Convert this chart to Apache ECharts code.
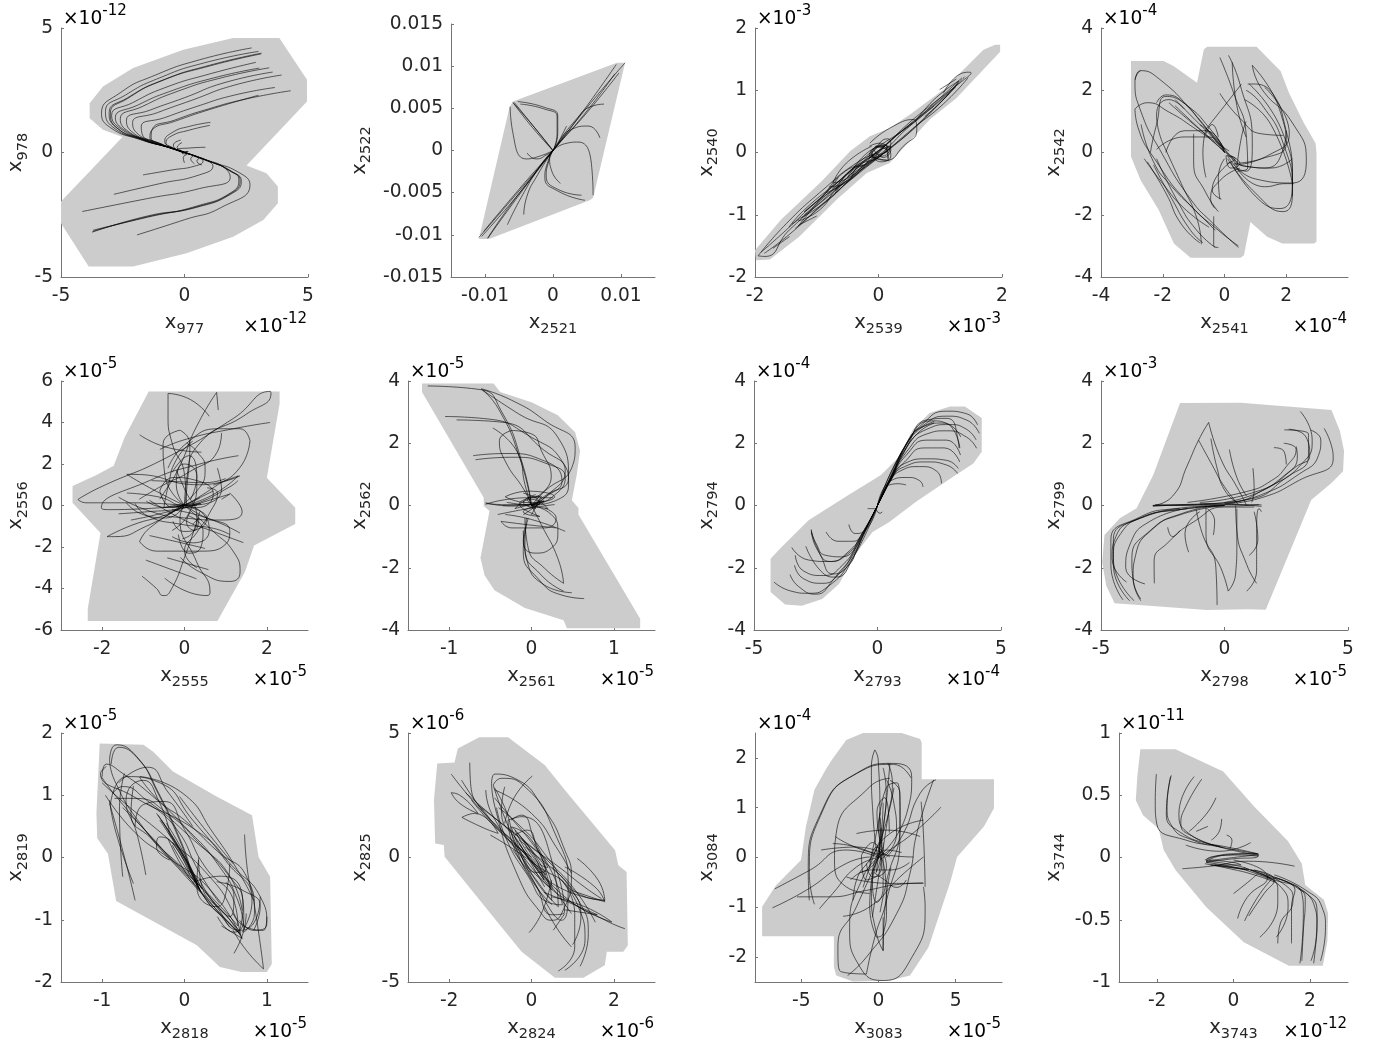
<!DOCTYPE html>
<html><head><meta charset="utf-8"><style>html,body{margin:0;background:#fff}#c{width:1381px;height:1046px}</style>
<script src="https://cdn.jsdelivr.net/npm/echarts@6/dist/echarts.min.js"></script></head><body><div id="c"></div>
<script>
const xNames=['977','2521','2539','2541','2555','2561','2793','2798','2818','2824','3083','3743'];
const yNames=['978','2522','2540','2542','2556','2562','2794','2799','2819','2825','3084','3744'];
const xExp=['-12','','-3','-4','-5','-5','-4','-5','-5','-6','-5','-12'];
const yExp=['-12','','-3','-4','-5','-5','-4','-3','-5','-6','-4','-11'];
const xLim=[5,0.015,2,4,3,1.5,5,5,1.5,3,8,3];
const yLim=[5,0.015,2,4,6,4,4,4,2,5,2.5,1];
const xTicks=[[-5,0,5],[-0.01,0,0.01],[-2,0,2],[-4,-2,0,2],[-2,0,2],[-1,0,1],[-5,0,5],[-5,0,5],[-1,0,1],[-2,0,2],[-5,0,5],[-2,0,2]];
const yTicks=[[-5,0,5],[-0.015,-0.01,-0.005,0,0.005,0.01,0.015],[-2,-1,0,1,2],[-4,-2,0,2,4],[-6,-4,-2,0,2,4,6],[-4,-2,0,2,4],[-4,-2,0,2,4],[-4,-2,0,2,4],[-2,-1,0,1,2],[-5,0,5],[-2,-1,0,1,2],[-1,-0.5,0,0.5,1]];

const hull1=[[1.97,4.6],[3.84,4.6],[4.96,2.92],[4.96,2.05],[2.51,-0.52],[3.32,-0.83],[3.78,-1.37],[3.78,-2.04],[3.19,-2.71],[1.97,-3.38],[0.08,-4.05],[-2.08,-4.58],[-3.88,-4.58],[-5,-2.84],[-5,-1.97],[-2.51,0.62],[-3.3,0.91],[-3.84,1.38],[-3.84,1.98],[-3.3,2.65],[-2.08,3.39],[-0.05,4.13]];
const traj1=[
[[2.72,4.2],[0.6,3.72],[-1.2,3.1],[-2.6,2.4],[-3.36,1.58],[-3,1],[-1.8,0.52],[-0.7,0.22],[0,0]],
[[3,4.06],[0.8,3.6],[-1,3],[-2.4,2.3],[-3.2,1.65],[-2.9,1.02],[-1.7,0.5],[-0.7,0.22],[0,0]],
[[3.12,3.99],[1,3.5],[-0.9,2.9],[-2.3,2.2],[-3.05,1.6],[-2.8,1.03],[-1.7,0.52],[-0.7,0.22],[0,0]],
[[3.1,3.96],[1,3.47],[-0.95,2.87],[-2.3,2.17],[-3,1.58],[-2.75,1],[-1.65,0.5],[-0.7,0.22],[0,0]],
[[2.89,3.62],[1,3.15],[-0.8,2.6],[-2.1,2],[-2.95,1.5],[-2.65,1],[-1.6,0.5],[-0.6,0.2],[0,0]],
[[3.03,3.39],[1.2,3],[-0.6,2.45],[-1.9,1.9],[-2.8,1.4],[-2.5,0.95],[-1.5,0.48],[-0.6,0.2],[0,0]],
[[3.43,3.4],[1.5,3],[-0.3,2.45],[-1.7,1.85],[-2.6,1.35],[-2.35,0.9],[-1.4,0.45],[-0.6,0.2],[0,0]],
[[3.57,3.23],[1.6,2.8],[0,2.2],[-1.4,1.7],[-2.35,1.3],[-2.15,0.85],[-1.3,0.42],[-0.5,0.17],[0,0]],
[[3.93,3.11],[2,2.7],[0.3,2.1],[-1.1,1.6],[-2.1,1.2],[-1.95,0.8],[-1.2,0.42],[-0.5,0.17],[0,0]],
[[3.66,2.61],[2,2.3],[0.5,1.85],[-0.8,1.4],[-1.75,1.05],[-1.7,0.7],[-1.1,0.4],[-0.45,0.15],[0,0]],
[[4.3,2.48],[2.5,2.15],[0.8,1.7],[-0.4,1.3],[-1.3,0.95],[-1.35,0.6],[-0.9,0.33],[-0.4,0.12],[0,0]],
[[3,2.3],[1,1.72],[-0.4,1.25],[-1.3,0.92],[-1.4,0.6],[-0.9,0.32],[0,0]],
[[1.05,1.21],[0.2,1.05],[-0.5,0.8],[-0.8,0.45],[-0.5,0.2],[0,0]],
[[1.03,1.09],[0.2,0.9],[-0.55,0.65],[-0.75,0.38],[-0.45,0.18],[0,0]],
[[0.85,0.21],[0.2,0.18],[-0.3,0.12],[-0.15,0.05],[0,0]],
[[-0.15,0.5],[-0.45,0.3],[-0.3,0.1],[0,0]],
[[-0.1,0.4],[-0.3,0.2],[-0.1,0.05],[0,0]],
[[0,-0.42],[-0.05,-0.2],[0.1,-0.08]],
[[0.4,-0.45],[0.25,-0.25],[0.35,-0.15]],
[[0.7,-0.5],[0.5,-0.35],[0.6,-0.22]],
[[-4.14,-2.37],[-1.5,-1.85],[0.6,-1.45],[1.85,-1],[1.6,-0.6],[0.9,-0.3],[0,0]],
[[-2.86,-1.68],[-1,-1.25],[0.6,-0.9],[1.15,-0.55],[0.7,-0.25],[0,0]],
[[-1.68,-0.9],[-0.5,-0.7],[0.4,-0.55],[0.75,-0.35],[0.4,-0.15],[0,0]],
[[-3.74,-3.2],[-1.5,-2.55],[0.5,-2.2],[2,-1.6],[2.3,-1.15],[1.9,-0.75],[1,-0.35],[0,0]],
[[-3.7,-3.12],[-1.5,-2.6],[0.5,-2.15],[1.9,-1.6],[2.2,-1.1],[1.8,-0.72],[1,-0.35],[0,0]],
[[-3.72,-3.17],[-1.5,-2.58],[0.5,-2.18],[1.95,-1.6],[2.25,-1.12],[1.85,-0.74],[1,-0.35],[0,0]],
[[-1.92,-3.31],[0,-2.7],[1.5,-2.2],[2.65,-1.3],[2.2,-0.8],[1,-0.35],[0,0]],
[[-0.2,0.1],[0.2,-0.06],[-0.1,-0.03],[0.15,0.04],[-0.15,0.03],[0.18,-0.05]]
];

const hull2=[[-0.0059,0.0058],[0.0094,0.0104],[0.0106,0.0104],[0.0059,-0.0056],[0.0054,-0.0059],[-0.0094,-0.0105],[-0.0109,-0.0105],[-0.0064,0.0051]];
const traj2=[
[[-0.0109,-0.0103],[-0.005,-0.0048],[0,0],[0.005,0.0051],[0.0106,0.0104]],
[[-0.0105,-0.0102],[-0.005,-0.0051],[0,0],[0.005,0.0053],[0.0093,0.0102]],
[[-0.0102,-0.0096],[-0.005,-0.0046],[0,0],[0.005,0.0047],[0.0091,0.0091]],
[[-0.0096,-0.0104],[-0.005,-0.0053],[0,0],[0.005,0.0045],[0.0097,0.0092]],
[[-0.0059,0.0057],[-0.003,0.0027],[0,0]],
[[-0.0058,0.0056],[-0.003,0.003],[0,0]],
[[-0.0057,0.0057],[-0.0028,0.0028],[0,0]],
[[-0.0052,0.0058],[-0.0012,0.0051],[0.0007,0.0041],[0.0007,0.0021],[0,0]],
[[-0.0048,0.0055],[-0.0012,0.0049],[0.0006,0.004],[0.0006,0.002],[0,0]],
[[-0.0063,0.0052],[-0.0059,0.0021],[-0.0039,-0.001],[-0.0017,-0.0006],[0,0]],
[[-0.0038,-0.0003],[-0.0025,-0.001],[-0.0007,-0.0004],[0,0]],
[[0.0059,-0.0053],[0.0057,-0.002],[0.0037,0.001],[0.0017,0.0008],[0,0]],
[[0.0047,-0.0059],[0.0007,-0.0048],[-0.0012,-0.0032],[-0.0007,-0.0012],[0,0]],
[[0.0042,-0.0053],[0.0007,-0.0046],[-0.001,-0.003],[-0.0006,-0.0012],[0,0]],
[[0.0011,-0.0039],[-0.0002,-0.0024],[-0.0005,-0.0008],[0,0]],
[[0.0069,0.0015],[0.0052,0.0029],[0.0027,0.0025],[0.0007,0.0008],[0,0]],
[[0.0075,0.0055],[0.0059,0.0053],[0.0032,0.0035],[0,0]],
[[0.002,0.0029],[0.0015,0.0021],[0.0007,0.0008]],
[[-0.0043,-0.0076],[-0.0039,-0.0056],[-0.0022,-0.0028],[0,0]],
[[-0.0067,-0.0088],[-0.0047,-0.0056],[-0.0017,-0.0016],[0,0]],
[[-0.0096,-0.0104],[-0.0062,-0.0064],[0,0]]
];

const hull3=[[1.97,1.73],[1.97,1.62],[1.26,0.87],[0.83,0.53],[0.18,-0.17],[-0.19,-0.33],[-0.68,-0.76],[-1.28,-1.35],[-1.76,-1.72],[-1.98,-1.73],[-2,-1.57],[-1.58,-1.08],[-0.92,-0.46],[-0.46,0.02],[-0.14,0.26],[0.18,0.39],[0.51,0.61],[1.05,1.01],[1.7,1.65],[1.89,1.73]];
const traj3=[
[[-0.11,0.1],[-0.52,-0.17],[-0.74,-0.49],[-0.46,-0.39],[-0.03,-0.06]],
[[-0.14,0.15],[0.18,0.39],[0.56,0.53],[0.62,0.36],[0.4,0.1],[0.13,-0.12],[-0.11,-0.06]],
[[1.05,0.95],[1.43,1.29],[1.5,1.28],[1.32,1.12],[0.72,0.66],[0.4,0.39],[0,0]],
[[-1.95,-1.66],[-1.49,-1.14],[-0.9,-0.6],[-0.36,-0.17],[0,0]],
[[-1.95,-1.66],[-1.84,-1.67],[-1.44,-1.24],[-0.63,-0.55],[0,0]],
[[-1.44,-1.35],[-1.71,-1.54]],
[[-1,-1.02],[-1.28,-1.16]],
[[0.99,1.01],[1.26,1.18]],
[[-1.4,-1.15],[-1,-0.85],[-0.5,-0.4],[0,-0.05],[0.5,0.42],[0.9,0.75]],
[[-1.45,-1.2],[-1.2,-0.92],[-0.6,-0.42],[-0.1,0.02],[0.45,0.4],[1,0.88],[1.35,1.2]],
[[-1.35,-1.22],[-0.8,-0.75],[-0.3,-0.3],[0.2,0.08],[0.7,0.5],[1.3,1.12]],
[[-1.3,-1.1],[-0.95,-0.92],[-0.65,-0.55],[-0.35,-0.35],[-0.1,-0.02]],
[[-1.2,-1],[-0.7,-0.55],[-0.4,-0.25],[0,0.02],[0.3,0.28],[0.6,0.5],[1.25,1.05]],
[[-0.85,-0.65],[-0.5,-0.45],[-0.25,-0.2],[-0.4,-0.25],[-0.75,-0.58]],
[[-0.7,-0.65],[-0.4,-0.3],[-0.1,-0.12],[0.2,0.15],[0.15,0.22],[-0.1,0],[-0.45,-0.35]],
[[0.15,-0.1],[0.08,0.1],[-0.1,0.05],[-0.15,-0.08],[0.1,-0.05],[0.2,0.1],[0,0.03],[-0.1,-0.05],[0.15,0.03],[-0.05,0.1]],
[[0.18,-0.13],[0.05,-0.12],[-0.1,-0.02],[0.02,0.12],[0.2,0.05],[0.08,-0.08],[-0.08,0.05]],
[[-0.65,-0.4],[-0.9,-0.7],[-1.2,-0.95],[-0.95,-0.75],[-0.6,-0.52]],
[[-1.9,-1.6],[-1.5,-1.25],[-1,-0.78],[-0.5,-0.35],[0,0.02],[0.5,0.45],[1,0.85],[1.4,1.22]],
[[-1.85,-1.62],[-1.4,-1.28],[-0.9,-0.82],[-0.4,-0.4],[0.1,0],[0.55,0.38],[1.05,0.78],[1.45,1.2]],
[[-1.3,-1.18],[-0.9,-0.7],[-0.6,-0.35],[-0.2,-0.12],[0.2,0.2],[0.55,0.48]],
[[-1.25,-1.05],[-0.8,-0.75],[-0.45,-0.42],[-0.1,-0.15],[0.3,0.15],[0.6,0.42],[1.15,0.95]],
[[-0.8,-0.55],[-0.55,-0.5],[-0.3,-0.2],[0,-0.08],[0.15,0.1]],
[[-0.7,-0.62],[-0.45,-0.28],[-0.2,-0.18],[0.1,0.1],[-0.15,0.02],[-0.5,-0.4]],
[[0.6,0.5],[0.9,0.85],[1.3,1.15],[1.1,0.9],[0.75,0.58]],
[[-0.15,0.1],[0.02,0.15],[0.2,-0.05],[0.05,-0.15],[-0.12,0],[0.1,0.12],[0.16,-0.1]]
];

const hull4=[[-3.03,2.94],[-1.97,2.94],[-1.64,2.77],[-0.89,2.24],[-0.67,3.31],[-0.56,3.4],[1.04,3.4],[1.82,2.61],[2.09,1.91],[2.57,0.95],[2.95,0.3],[2.98,-0.02],[2.98,-2.87],[2.9,-2.92],[1.87,-2.92],[1.38,-2.71],[0.84,-2.23],[0.63,-3.3],[0.52,-3.38],[-1.1,-3.38],[-1.64,-2.92],[-2.13,-1.85],[-2.72,-0.88],[-3.03,-0.13]];
const traj4=[
[[-2.89,2.34],[-2.72,2.63],[-2.1,2.35],[-1,1.27],[-0.3,0.4],[0,0]],
[[-2.72,2.63],[-2.9,2.3],[-2.7,1.3],[-2.1,0.1],[-1.1,-1.5],[-0.35,-2.3],[0.45,-3.05]],
[[-2.9,1.4],[-2.5,1.6],[-1.8,1.3],[-1,0.8],[-0.3,0.3],[0,0]],
[[-2.9,1.4],[-2.8,0.8],[-2.2,-0.3],[-1.2,-1.6],[-0.2,-2.5],[0.45,-3]],
[[-2.4,0],[-2.2,0.9],[-1.9,1.8],[-1.4,1.65],[-0.7,0.9],[0,0.1]],
[[-2.2,1.6],[-1.9,1.85],[-1.2,1.5],[-0.5,0.8],[0,0.1]],
[[-2,0.3],[-2.2,1.2],[-1.8,1.7],[-1.3,1.4]],
[[-2.2,0.1],[-1.3,0.5],[-0.5,0.5],[0,0]],
[[-1.9,0],[-1.3,0.7],[-0.6,0.7],[0,0]],
[[-2,0.3],[-1.4,-1],[-0.9,-2.1],[-0.75,-2.95]],
[[-2.3,-0.4],[-1.7,-1.5],[-1.1,-2.5],[-0.7,-2.9]],
[[-2.2,-0.2],[-1.5,-1.6],[-0.9,-2.5],[-0.3,-3.05]],
[[-2.5,-0.3],[-1.9,-1.3],[-1.4,-2.3],[-0.8,-2.9]],
[[-1,0.6],[-1,-0.3],[-0.6,-1.3],[-0.2,-1.9]],
[[-0.35,-2.05],[-0.35,-3],[-0.2,-3.05]],
[[0.1,-0.1],[1,-0.85],[2.2,-0.98],[2.65,-0.25],[2.2,0.95],[1.2,2.05],[0.9,2.8]],
[[0.1,-0.2],[1,-1.3],[1.9,-1.9],[2.2,-1.3],[1.9,0.3],[1.2,1.55],[0.7,2]],
[[0.2,-0.3],[1.1,-1.5],[1.8,-1.8],[2.2,-1],[1.9,0.6],[0.8,2.2]],
[[0.3,-0.35],[1.2,-0.2],[2,0.3],[1.9,1],[1,2.2],[0.75,2.2]],
[[0.3,-0.4],[1.4,-0.1],[2.1,0.6],[1.3,2.1]],
[[-0.6,0.75],[0,1.5],[0.55,2.2]],
[[-0.6,0.75],[-0.7,0],[-0.6,-0.8]],
[[-0.15,3.05],[0.3,1.9],[0.7,0.6],[0.75,-0.5],[0.4,-0.6]],
[[0.13,3.12],[0.5,2.2],[0.9,0.3],[0.7,-0.6],[0.3,-0.5]],
[[0.25,2.9],[0.4,1.5],[0.7,0.5]],
[[-0.15,1.9],[0.5,1.1],[1.2,0.6],[1.9,0.55]],
[[0.65,1.7],[1.5,0.9],[2.2,-1]],
[[0.9,2.8],[1.5,2],[1.9,1.1],[2.2,-1],[2.2,-1.4]],
[[0.4,-0.5],[0.55,0.5],[0.7,1]],
[[0.2,-0.1],[0.5,-0.35],[0.2,-0.5],[0.05,-0.1],[0.35,-0.2],[0.1,-0.35]],
[[-0.6,0.6],[-0.4,0.9],[-0.2,0.5]],
[[0,-0.2],[-0.2,-0.8],[-0.15,-1.5]],
[[0.2,-0.3],[-0.4,-1.2],[-0.1,-1.5]],
[[0.5,-0.5],[-0.15,-0.9],[-0.45,-1.5],[-0.3,-1.8]],
[[0.15,0.05],[-0.5,0.5],[-1.8,1.6]],
[[0.4,-0.4],[-0.2,0.3],[-0.8,0.9],[-1.6,1.7]],
[[0.4,-0.5],[1.3,-1.1],[2,-1],[2.25,-1]],
[[0.5,-0.4],[1.3,-0.5],[1.9,0.1],[2,0.7]],
[[-0.8,0.9],[-0.3,0.5],[0.2,-0.1],[0.7,-0.45],[1.5,-0.5],[2.2,-0.2]],
[[-1.6,1.5],[-0.8,0.75],[-0.2,0.2],[0.4,-0.3]],
[[-2.6,-0.2],[-2,-1],[-1.3,-1.8],[-0.5,-2.4]],
[[-2.7,0.9],[-2.3,-0.3],[-1.7,-1.1],[-0.9,-1.9],[-0.3,-2.5]]
];

const hull5=[[-0.87,5.5],[2.31,5.5],[2.31,4.9],[2,1.34],[2.69,-0.11],[2.69,-0.89],[1.69,-1.93],[1.47,-3.19],[0.8,-5.57],[-2.35,-5.57],[-2.35,-4.97],[-2.04,-1.33],[-2.72,0.13],[-2.72,0.94],[-2.15,1.46],[-1.72,1.92],[-1.45,3.3]];
const traj5=[
[[-2.59,0.29],[-2.07,0.86],[-0.44,2.3],[1.19,4.2],[2.08,5.5],[2.1,5.4],[1.5,4.4],[0.37,3],[0.05,1.2],[0,0]],
[[-2.59,0.29],[-2.39,0.13],[-1.25,0.13],[0,0]],
[[-1.88,-1.5],[-1.25,-0.93],[-0.44,-0.44],[0,0]],
[[-1.88,-1.5],[-1.7,-1.5],[-0.93,-1],[0,0],[0.7,0.7]],
[[-0.4,5.4],[-0.4,4.4],[-0.3,3],[0,1.5],[0.05,0]],
[[-0.4,5.4],[0.15,5.1],[0.6,4.3]],
[[0.78,5.45],[0.82,4.6]],
[[0.78,5.45],[0.37,4.1],[0.05,2.65],[-0.2,1],[0,0]],
[[2.08,4],[1.19,3.7],[0.05,3.2],[-0.6,2.7]],
[[1.59,3.13],[1.35,3.7],[0.86,3.7],[0.05,3],[-0.4,1.8]],
[[1.59,3.13],[1.35,1.84],[0.7,0.86],[0,0]],
[[1.31,2.4],[0.37,2],[-0.85,1.2],[-2.02,-0.11],[-1.82,-0.2],[0,0]],
[[-1.09,3.41],[-0.44,2.81],[0.41,2.57]],
[[1.35,1.43],[0.37,1],[-1.25,1.5],[-1.4,1.5],[-0.85,0.86],[0,0]],
[[-1.09,-1.74],[-0.68,-2.2],[0.37,-2.2],[1.02,-1.82],[1.1,-1.25],[0.37,-0.44],[0,0]],
[[-1.09,-1.74],[-0.85,-1.09],[0,0]],
[[-0.85,-1.45],[-0.2,-1.74],[0.5,-2.07]],
[[0,0],[0.7,-1.25],[1.19,-2.23],[1.35,-3.2],[1.1,-3.66],[0.37,-3.2],[-0.1,-2.5]],
[[-0.94,-2.63],[-0.3,-3.1],[0.29,-3.53]],
[[-0.42,-2.52],[0.58,-3.09]],
[[-1.03,-3.41],[-0.68,-4],[-0.52,-4.34],[-0.36,-4.18],[0.05,-2.23],[0.37,-0.3]],
[[-0.48,-3.5],[0.54,-4.34],[0.62,-4.18],[0.29,-2.7],[-0.11,-0.6],[0,0]],
[[1.43,-1.79],[0.7,-1.25],[0.05,-0.76],[-0.85,0.25]],
[[-1.41,0.13],[-1,-0.44],[-0.44,-0.6],[0,0]],
[[-0.11,3.63],[-0.52,2.98],[-0.48,1.5],[0,0]],
[[-0.11,3.63],[0.13,2.98],[0.05,0.7],[0,0]],
[[0.7,0.98],[1.31,1.43],[0.7,0.53],[0,0]],
[[-0.6,0.7],[-0.28,1.35],[0.3,1.2],[0.7,0.55],[0.3,-0.1],[-0.28,-0.1],[-0.6,0.7]],
[[-0.28,-0.76],[-0.03,-1.25],[0.37,-1.1],[0.54,-0.6],[0.13,-0.1]],
[[1.35,-1.33],[0.54,-0.6],[-0.3,-0.2]],
[[-0.93,0.21],[-0.44,-0.1],[0.37,0.37]],
[[-0.3,1.6],[0.1,2.4],[0.3,1.2],[0.1,-0.4],[-0.3,-1.2]],
[[-1.4,0.6],[-0.6,0.4],[0,0],[0.9,0.8],[0.8,1.8]],
[[0.2,-0.9],[0.35,-0.6],[0.25,-1.2],[0.05,-0.8],[0.15,-0.3]],
[[-0.5,-0.1],[0,0.05],[0.4,0.08],[-0.2,-0.05],[0.3,0]],
[[-0.05,-1.6],[0.2,-1.3],[0.3,-0.6],[0,0.8],[-0.2,1.7]],
[[-1.1,0.3],[-0.5,1],[0.1,1.6],[0.8,2.6],[0.9,3.5]],
[[-1.6,0.4],[-0.8,-0.3],[0,-0.6],[0.9,-0.7],[1.4,-0.3],[1.1,0.6]],
[[-1.3,-0.7],[-0.6,-0.4],[0.3,0.1],[1.1,0.9],[1.3,1.2]],
[[-0.6,0.3],[-0.3,1.2],[0,2],[0.3,1.4],[0.15,0.3]],
[[-1.2,0.1],[-0.9,-0.5],[-0.1,-0.9],[0.7,-1.1],[1.1,-1.4]],
[[-0.3,-1.5],[0.2,-1.8],[0.6,-1.2],[0.4,-0.3],[0,0]],
[[0.55,0.85],[0.8,0.6],[0.6,-0.4],[0.3,-1.3],[0,-2.2],[0.3,-3]],
[[-0.8,1.2],[-0.2,1.15],[0.5,1.1],[1,1.3]],
[[-0.5,-0.1],[-0.4,0.9],[-0.2,2.2],[0.2,3.1]],
[[-0.4,-0.4],[0.3,0.7],[0.5,1.8],[0.3,2.6],[0.05,3]],
[[-1.6,-0.4],[-0.9,-0.3],[-0.1,-0.15],[0.6,0.25],[1.1,0.55],[0.9,0.3]],
[[0.1,-0.5],[0.45,-1.2],[0.4,-2],[0.1,-2.3],[-0.15,-1.4]]
];

const hull6=[[-1.33,3.92],[-0.46,3.92],[-0.38,3.65],[0,3.32],[0.32,2.9],[0.53,2.35],[0.59,1.76],[0.55,1],[0.49,0.17],[0.57,-0.08],[0.57,-0.29],[1.32,-3.64],[1.32,-3.94],[0.43,-3.94],[0.39,-3.69],[-0.08,-3.29],[-0.45,-2.72],[-0.57,-2.24],[-0.62,-1.69],[-0.51,-0.18],[-0.58,-0.02],[-0.58,0.25],[-1.33,3.65]];
const traj6=[
[[-1.26,3.84],[-0.61,3.72],[-0.37,3.05],[-0.12,1.43],[0,0]],
[[-0.61,3.74],[-0.4,3.1],[-0.14,1.5],[0,0]],
[[-0.61,3.75],[-0.24,3.38],[0.16,2.73],[0.53,1.87],[0.49,1.22],[0.16,0.46],[0,0]],
[[-0.59,3.7],[-0.16,2.95],[0.32,2.19],[0.45,0.9],[0.16,0.3],[0,0]],
[[-1.05,2.86],[-0.53,2.78],[0,2.19],[0.37,1.43],[0.45,0.68],[0.32,0.19],[0,0]],
[[-0.91,2.75],[-0.37,2.68],[0.16,1.76],[0.41,1.11],[0.16,0.25],[0,0]],
[[-0.47,2.49],[-0.16,1.65],[-0.08,0.68],[0,0]],
[[-0.24,2.41],[-0.39,2.08],[-0.32,1.43],[-0.08,0.46],[0,0]],
[[-0.24,2.41],[0,2.3],[0.12,1.76],[0.24,0.9],[0.04,0.25]],
[[-0.71,1.6],[-0.32,1.67],[0.16,1.43],[0.37,0.79],[0.16,0.25],[0,0]],
[[-0.68,1.47],[-0.24,1.55],[0.2,1.33],[0.41,0.9],[0.24,0.25],[0,0]],
[[-0.56,0.09],[-0.24,-0.02],[0.16,0.14]],
[[-0.56,0.04],[-0.04,0.25],[0.26,0.25]],
[[-0.55,0.06],[-0.2,0.02],[0.1,0.05],[-0.35,0]],
[[-0.41,-0.29],[0,-0.08],[0.28,0.03]],
[[-0.32,0.28],[-0.04,0.46],[0.28,0.28],[-0.04,0.09],[-0.32,0.28]],
[[0.41,-0.83],[0,-0.45],[-0.32,-0.29]],
[[0.3,-0.72],[-0.04,-0.62],[-0.37,-0.51],[-0.24,-0.72],[0.16,-0.72],[0.3,-0.4],[0.16,-0.08]],
[[-0.08,-0.72],[-0.1,-1.16],[0.04,-1.53],[0.24,-1.37],[0.32,-0.83],[0.24,-0.29],[0,0]],
[[0.39,-2.5],[0.32,-1.7],[0.12,-0.62],[0,0]],
[[0.39,-2.5],[0.16,-2.02],[-0.04,-1.37],[-0.08,-0.4]],
[[0.39,-2.75],[0.12,-2.24],[-0.08,-1.37],[-0.06,-0.4]],
[[0.64,-2.99],[0.37,-2.88],[0.08,-2.35],[-0.1,-1.48],[-0.04,-0.4]],
[[0.49,-2.8],[0.16,-2.56],[-0.06,-1.7],[-0.1,-0.8]],
[[-0.1,0.4],[0.1,0.1],[-0.1,-0.2],[0.1,-0.35],[-0.15,0.05],[0.12,0.3],[0,-0.3]],
[[-0.3,0.1],[0.2,-0.1],[0,0.2],[-0.2,-0.1],[0.15,0.15],[-0.1,-0.3]],
[[0.1,0.3],[-0.05,0.2],[0.05,-0.1],[-0.1,0.1],[0.05,0.35]]
];

const hull7=[[2.11,2.97],[2.93,3.18],[3.54,3.18],[4.22,2.81],[4.22,1.73],[3.88,1.35],[3.06,0.92],[1.56,0.12],[0.48,-0.53],[-0.2,-0.85],[-0.88,-1.55],[-1.56,-2.52],[-2.24,-3],[-3.06,-3.22],[-3.74,-3.18],[-4.33,-2.78],[-4.33,-1.71],[-3.88,-1.33],[-2.79,-0.47],[-1.29,0.28],[0.14,0.98],[0.88,1.57],[1.43,2.43]];
const traj7=[
[[0,0],[0.55,0.9],[1.1,1.85],[1.8,2.6],[2.8,3.03],[3.6,2.95],[4.05,2.59]],
[[0,0],[0.55,0.9],[1.15,1.95],[1.9,2.6],[2.8,2.87],[3.6,2.75],[4.12,2.32]],
[[0,0],[0.55,0.85],[1.2,1.9],[2,2.45],[2.9,2.6],[3.6,2.45],[3.99,2.11]],
[[0,0],[0.5,0.8],[1.2,1.75],[2,2.3],[2.8,2.4],[3.6,2.2],[4.01,1.84]],
[[0,0],[0.5,0.8],[1.2,1.65],[2,2.1],[2.8,2.1],[3.36,1.62]],
[[0,0],[0.5,0.8],[1.1,1.4],[1.9,1.85],[2.7,1.85],[3.33,1.4]],
[[0,0],[0.55,0.85],[1.1,1.35],[2,1.5],[2.8,1.45],[3.27,1.19]],
[[0,0],[0.55,0.85],[1.1,1.25],[2,1.4],[2.8,1.3],[3.24,1.03]],
[[0,0],[0.5,0.75],[0.9,1.1],[1.7,1.25],[2.4,1.1],[2.59,0.71]],
[[0,0],[0.55,0.8],[1.2,0.9],[1.7,0.8],[1.84,0.6]],
[[0.45,0.65],[0.8,0.7],[1.16,0.66]],
[[0,0],[1.2,1.9],[2,2.75],[2.8,2.8],[3.3,2],[3.33,1.84]],
[[0,0],[1.2,2],[2.2,2.72],[2.9,2.6],[3.37,2.2]],
[[0,0],[1.1,1.9],[1.9,2.55],[2.6,2.65],[3.1,2.4],[3.3,1.85]],
[[0,0],[0.5,0.8],[1,1.6],[1.6,2.3],[2.3,2.65]],
[[0,0],[0.48,0.85],[0.95,1.65],[1.55,2.35],[2.3,2.7]],
[[-0.5,-0.75],[0,0],[0.5,0.85],[1,1.7]],
[[-4.19,-2.46],[-3.5,-2.75],[-2.8,-2.82],[-2,-2.6],[-1.1,-1.8],[-0.5,-0.8],[0,0]],
[[-3.54,-2.22],[-3.2,-2.6],[-2.5,-2.85],[-1.8,-2.4],[-1,-1.6],[-0.5,-0.8],[0,0]],
[[-3.36,-1.92],[-3,-2.35],[-2.2,-2.5],[-1.5,-2.1],[-0.9,-1.4],[0,0]],
[[-3.33,-1.6],[-3,-2.1],[-2.2,-2.25],[-1.4,-1.9],[-0.8,-1.2],[0,0]],
[[-3.47,-1.35],[-2.8,-1.75],[-2,-1.8],[-1.2,-1.55],[-0.7,-1],[0,0]],
[[-2.68,-0.77],[-2.45,-1.4],[-1.9,-1.8],[-1.2,-1.5],[-0.6,-0.9],[0,0]],
[[-2.68,-0.85],[-2.3,-1.6],[-1.8,-2.2],[-1.2,-1.95],[-0.8,-1.35],[0,0]],
[[-2.9,-1.31],[-2.3,-2.1],[-1.7,-2.3],[-1,-1.7],[0,0]],
[[-2.08,-0.85],[-1.6,-1.15],[-1,-1.15],[-0.55,-0.8],[0,0]],
[[-1.16,-0.61],[-0.9,-0.9],[-0.5,-0.8],[0,0]],
[[-2.68,-0.8],[-2.5,-1.2],[-2.1,-1.6],[-1.4,-1.65],[-0.7,-1.05]],
[[-0.4,-0.1],[-0.15,-0.1],[0.1,-0.25],[0.2,-0.2]]
];

const hull8=[[-1.8,3.29],[0.65,3.3],[4.33,3.07],[4.67,2.4],[4.84,1.75],[4.8,1.1],[4.33,0.72],[3.51,0.18],[1.67,-3.35],[0.93,-3.33],[-0.71,-3.36],[-4.45,-3.14],[-4.79,-2.57],[-4.95,-1.82],[-4.86,-0.95],[-4.24,-0.41],[-3.56,-0.09],[-2.88,0.99]];
const traj8=[
[[-2.9,0],[0,0.08],[1.8,0.6],[3.2,1.4],[3.55,2.1],[3.07,3.02]],
[[-1,0.05],[1,0.2],[2.5,0.9],[3.4,1.6],[3.4,2.3],[2.42,2.43]],
[[0,0.05],[1.5,0.25],[3,0.8],[4.4,1.5],[4.3,2],[4.03,2.48]],
[[0,0.05],[1.5,0.35],[3,1],[3.8,1.6],[3.9,2.1],[3.5,2.42]],
[[0,0.1],[1.6,0.5],[2.9,1.25],[3.45,1.6],[3.3,2.2],[2.6,2.45]],
[[-1,0.1],[1.1,0.4],[2.4,0.95],[2.95,1.6],[2.9,1.9]],
[[-1.5,0.1],[0.9,0.45],[1.9,0.8],[2.5,1.25],[2.9,1.8],[2.4,2]],
[[2,1.86],[2.4,1.75],[2.5,1.32]],
[[-2.9,0],[0,0.03],[1.5,0.02]],
[[-2.9,-0.03],[-0.5,0.05],[1.5,-0.03]],
[[-2.8,0.03],[0,-0.02],[1.4,0.03]],
[[-4.11,-3.03],[-4.6,-1.9],[-4.6,-1.1],[-3.5,-0.4],[-2,-0.1],[0,0]],
[[-3.84,-3.06],[-4.5,-1.9],[-4.5,-1.1],[-3.4,-0.4],[-2,-0.15],[0,0]],
[[-3.66,-3.06],[-4.5,-1.7],[-4.2,-0.9],[-3.2,-0.35],[-1.5,-0.1],[0,0]],
[[-3.39,-3.06],[-3.7,-2.4],[-3.75,-1.7],[-3,-0.8],[-1.8,-0.3],[0,0]],
[[-3.39,-3],[-3.7,-2.3],[-3.6,-1.6],[-2.9,-0.75],[-1.7,-0.25],[-0.3,0]],
[[-3.97,-2.46],[-4.55,-1.7],[-4.4,-1],[-3.4,-0.4],[-1.8,-0.1]],
[[-3.22,-2.52],[-4,-2],[-3.8,-1.2],[-3,-0.5],[-1.5,-0.1]],
[[-2.84,-2.5],[-2.85,-1.8],[-2.3,-1.2],[-1.2,-0.5],[0,-0.05],[1.2,-0.05]],
[[-2.9,0],[-2.1,0.3],[-1.5,1.3],[-1.05,2.1],[-0.64,2.67]],
[[-0.64,2.67],[-0.15,1.5],[0.5,0.6],[0.9,0]],
[[-1.05,2.1],[-0.5,1.3],[0,0.6],[0.55,0.05]],
[[-0.55,2.15],[-0.3,1.2],[0,0.5],[0.5,0.1]],
[[0.2,1.8],[0.5,0.9],[0.9,0.3]],
[[1.15,1.2],[1.2,0.5],[1.1,0.1]],
[[-0.3,-3.2],[-0.35,-2],[-0.9,-0.9],[-1.15,-0.1]],
[[0.15,-2.75],[0.45,-2.2],[0.5,-1.2],[0.5,-0.1]],
[[0.15,-2.75],[-0.1,-2.1],[-0.75,-0.9],[-0.75,0]],
[[0.9,-2.75],[1.3,-2.1],[1.3,-0.9],[1.4,-0.1],[1.5,-0.2]],
[[1.3,-2.5],[0.9,-1.9],[0.5,-0.8],[0.45,0]],
[[1,-1.6],[1.35,-1.1],[1.2,-0.2]],
[[-1.45,-1.5],[-1.6,-0.9],[-1,-0.2]],
[[-0.45,-0.95],[-0.4,-0.5],[-0.7,-0.1]],
[[-2.3,-0.7],[-2.1,-1],[-1.8,-0.8]]
];

const hull9=[[-1.03,1.83],[-0.5,1.81],[-0.38,1.7],[-0.14,1.38],[0.39,0.98],[0.82,0.68],[0.9,0.01],[1.04,-0.31],[1.06,-1.71],[1,-1.84],[0.69,-1.84],[0.43,-1.76],[0.15,-1.41],[-0.83,-0.7],[-0.93,0.06],[-1.06,0.31],[-1.07,0.71]];
const traj9=[
[[-0.91,1.57],[-0.83,1.81],[-0.58,1.62],[-0.34,1.08],[-0.06,0.28],[0.19,-0.53],[0.59,-1.12],[0.67,-1.22]],
[[-0.89,1.5],[-0.8,1.77],[-0.56,1.58],[-0.32,1.05],[-0.04,0.25],[0.2,-0.55],[0.57,-1.1],[0.67,-1.22]],
[[-0.91,1.57],[-0.85,1.24],[-0.54,0.55],[0.02,-0.31],[0.67,-1.22]],
[[-1.01,1.3],[-0.83,0.98],[-0.3,0.17],[0.19,-0.53],[0.55,-1.12]],
[[-0.95,1.46],[-1.02,1.35],[-0.62,0.98],[0.19,0.39],[0.59,-0.15],[0.92,-0.63],[1,-1.06],[0.84,-1.17],[0.67,-1.01]],
[[-0.54,1.3],[-0.02,1.03],[0.35,0.39],[0.67,-0.26],[0.84,-0.69]],
[[-0.06,0.98],[0.19,0.55],[0.59,-0.1]],
[[-0.73,1.35],[-0.79,0.76],[-0.75,-0.31]],
[[-0.6,-0.69],[-0.73,0.01],[-0.91,0.87]],
[[-0.62,-0.42],[-0.83,0.39],[-0.91,0.92]],
[[-0.47,-0.28],[-0.58,0.39],[-0.71,0.92],[-0.5,1.24],[-0.3,0.87],[-0.18,0.39]],
[[0.73,0.37],[0.77,-0.26],[0.84,-0.69],[0.96,-1.79],[0.75,-1.49],[0.59,-1.17]],
[[0.6,-1.54],[0.71,-1.22],[0.75,-0.9]],
[[-0.18,-0.04],[-0.34,0.17],[-0.3,0.33],[-0.14,0.22],[0.06,-0.26]],
[[0.17,-0.04],[0.15,-0.47],[0.39,-0.79],[0.51,-0.53],[0.55,-0.1]],
[[1,-0.95],[0.96,-1.17],[0.75,-1.12],[0.59,-0.9]],
[[0.39,-0.39],[0.71,-0.53],[0.92,-0.79],[0.84,-1.17]],
[[-0.46,0.87],[-0.12,0.5],[0.19,-0.26],[0.43,-0.74]],
[[-0.34,0.71],[-0.06,0.12],[0.19,-0.53]],
[[-0.32,0.68],[-0.04,0.1],[0.21,-0.5],[-0.02,0.02],[-0.3,0.6]],
[[-0.28,0.6],[-0.02,0.06],[0.16,-0.45],[0.02,0],[-0.22,0.55]],
[[-0.87,1.03],[-0.75,1.14],[-0.46,0.92],[0.02,0.39],[0.55,-0.31],[0.71,-0.79],[0.67,-1.17]],
[[-1,1.3],[-0.95,1.5],[-0.75,1.35],[-0.4,1],[0,0.5],[0.4,-0.1],[0.65,-0.7],[0.72,-1.15]],
[[-1,1.2],[-0.75,0.9],[-0.2,0.3],[0.3,-0.3],[0.6,-0.9],[0.68,-1.25]],
[[-0.85,0.95],[-0.6,0.95],[-0.2,0.7],[0.2,0.2],[0.55,-0.3],[0.7,-0.85]],
[[0.92,-0.63],[0.88,-0.95],[0.67,-1.17],[0.39,-0.79],[0.18,-0.35]],
[[0.17,0],[0.2,-0.4],[0.55,-1],[0.7,-1.3],[0.45,-1.1]],
[[-0.96,1],[-0.6,0.4],[-0.2,0],[0.3,-0.5],[0.7,-1.3]],
[[-0.55,1.3],[-0.3,0.9],[0,0.6],[0.4,0.1],[0.75,-0.3],[0.85,-0.9],[0.72,-1.2]],
[[-0.9,0.85],[-0.7,1.3],[-0.3,1.2],[0.1,0.6],[0.5,-0.05],[0.82,-0.7],[0.7,-1.2]],
[[-0.75,0.8],[-0.45,0.4],[-0.1,-0.1],[0.3,-0.6],[0.65,-1.1]],
[[-0.6,0.5],[-0.5,0.85],[-0.25,0.9],[0,0.45],[0.25,-0.15],[0.6,-0.7],[0.65,-1.1]],
[[-0.62,1.15],[-0.65,0.7],[-0.4,0.3],[0,-0.2],[0.45,-0.85],[0.68,-1.2]],
[[0.1,-0.4],[0.45,-0.3],[0.7,-0.6],[0.72,-1],[0.6,-1.2],[0.4,-0.95]],
[[0.25,-0.55],[0.55,-0.95],[0.6,-0.6],[0.5,-0.4]],
[[-0.8,1.2],[-0.45,1.45],[-0.2,1.05],[0.1,0.5]],
[[-0.15,0.25],[-0.05,0.05],[0.1,-0.3],[0.2,-0.55],[0.1,-0.4],[-0.05,-0.1],[-0.2,0.3]],
[[-0.2,0.4],[0,0],[0.18,-0.5],[0.02,-0.18],[-0.15,0.2]]
];

const hull10=[[-1.27,4.83],[-0.57,4.83],[0.32,3.71],[0.81,2.71],[2.03,0.29],[2.11,-0.31],[2.31,-0.58],[2.34,-3.53],[2.23,-3.79],[1.83,-3.79],[1.78,-4.33],[1.26,-4.83],[0.57,-4.83],[-0.24,-3.79],[-0.73,-2.79],[-2.11,0.03],[-2.13,0.5],[-2.34,0.56],[-2.37,2.31],[-2.29,3.78],[-1.87,3.82],[-1.79,4.38]];
const traj10=[
[[-0.97,2.98],[-0.89,3.35],[-0.41,3.18],[0.32,1.9],[0.81,0.29],[0.97,-0.78],[0.73,-2.25],[0.49,-2.52],[0.24,-2.25],[-0.32,-0.78],[-0.89,2.04],[-0.97,2.98]],
[[-0.93,2.91],[-0.73,3.18],[-0.16,2.84],[0.57,0.97],[0.89,-1.18],[0.73,-2.52],[0.32,-1.72],[-0.49,0.97],[-0.93,2.91]],
[[-1.95,3.35],[-1.3,2.04],[-0.65,0.97],[0,-0.11],[0.65,-1.18],[1.78,-1.72]],
[[-1.5,3.81],[-1.48,2.98],[-1.05,1.64],[-0.32,0.43],[0.49,-1.18],[0.97,-2.25]],
[[-1.95,2.6],[-1.74,2.17],[-1.3,1.77],[-1.74,2.5],[-1.95,2.6]],
[[-1.69,1.61],[-1.14,1.17],[-0.81,0.97],[-1.38,1.77],[-1.69,1.61]],
[[-1.7,3.11],[-1.14,1.77],[-0.49,0.56],[0.16,-0.78],[1.14,-1.98],[1.95,-2.59]],
[[2.27,-2.86],[1.79,-2.52],[0.81,-1.58],[0,-0.11]],
[[1.11,-0.04],[1.62,-0.91],[1.78,-1.72],[1.3,-1.58],[0.65,-0.64],[-0.16,0.43]],
[[0.02,3.27],[-0.41,2.44],[-0.65,1.37]],
[[-0.06,-3.02],[0.24,-2.25],[0.49,-0.91]],
[[0.65,-4.56],[1.05,-3.59],[1.05,-2.25],[0.73,-0.91]],
[[0.81,-4.53],[1.3,-3.32],[1.14,-1.98],[0.65,-0.78]],
[[1.18,-4.37],[1.38,-3.06],[1.14,-1.72],[0.49,-0.38]],
[[0.53,-2.92],[0.81,-2.25]],
[[0.97,-3.59],[0.65,-2.92],[0.32,-1.98]],
[[-1.11,2.71],[-0.97,1.77],[-0.32,0.29]],
[[-0.57,1.5],[-0.24,1.64],[0.49,-0.11],[0.65,-1.98],[0.24,-1.18],[-0.49,0.7],[-0.57,1.5]],
[[-0.49,1.23],[0,0.7],[0.41,-0.91],[0.49,-1.72],[0,-0.64],[-0.49,1.23]],
[[-0.65,2.84],[-0.73,1.9],[-0.24,0.43],[0.32,-1.18]],
[[-0.89,2.71],[0,1.77],[0.65,0.29],[0.97,-0.64]],
[[0.49,-1.58],[1.3,-1.98],[1.95,-2.59]],
[[0.81,-0.38],[1.54,-1.18],[1.78,-1.78],[0.97,-1.32]],
[[-1.46,2.31],[-0.73,0.97],[0,0.02]],
[[-0.45,1.2],[0,0.3],[0.4,-0.6],[0.5,-1.3],[0,-0.4],[-0.42,0.6]],
[[-0.35,1],[0.08,0.1],[0.35,-0.7],[-0.05,0],[-0.42,0.85]],
[[-0.4,1.1],[-0.1,0.2],[0.25,-0.5],[0.45,-1.2],[0.05,-0.3],[-0.3,0.55]],
[[-0.9,2.4],[-0.5,1.6],[0,0.6],[0.5,-0.6],[0.75,-1.9],[0.4,-1.8],[-0.1,-0.7],[-0.6,0.7],[-0.85,2]],
[[-0.8,2],[-0.3,1.3],[0.25,0.3],[0.7,-1],[0.8,-2.2],[0.5,-2.3],[0.1,-1.1],[-0.45,0.3]],
[[-1.3,2.1],[-0.6,1.2],[0,0.4],[0.6,-0.3],[1.3,-1.2],[1.7,-1.65]],
[[-1.6,2.6],[-0.9,1.6],[-0.2,0.7],[0.5,-0.3],[1.1,-1.4],[1.55,-2.6]],
[[-1,0.9],[-0.5,0.4],[0.2,-0.4],[0.9,-1.2],[1.2,-2.4],[1,-3.5]],
[[-0.4,0.9],[-0.1,1.1],[0.15,0.3],[0.35,-0.5],[0.1,-0.6],[-0.25,0.1]],
[[-0.3,0.7],[0.05,0.1],[0.3,-0.9],[0.05,-0.3],[-0.3,0.4]],
[[-0.5,1.5],[-0.25,1.7],[0.1,0.6],[0.4,-0.4],[0.15,-0.2],[-0.2,0.7]],
[[-0.9,2.8],[-0.6,1.8],[-0.4,0.5],[0,-0.9],[0.5,-1.9]],
[[0.3,-1.4],[0.9,-1.8],[1.6,-2.3],[0.8,-2.1]]
];

const hull11=[[-1,2.5],[1.5,2.5],[2.7,2.38],[2.8,2.3],[2.8,1.57],[7.48,1.57],[7.48,0.99],[6.83,0.62],[5.09,0.01],[4.65,-0.49],[3.24,-1.8],[2.04,-2.37],[0.74,-2.47],[-1.65,-2.49],[-2.74,-2.37],[-2.89,-2.2],[-2.89,-1.58],[-7.54,-1.58],[-7.54,-0.99],[-6.65,-0.56],[-5.02,-0.05],[-4.7,0.62],[-4.15,1.36],[-3.39,1.78],[-2.96,1.99],[-2.09,2.36]];
const traj11=[
[[-4.15,-0.94],[-4.48,-0.32],[-3.6,0.95],[-1.43,1.69],[0.96,1.89],[2.15,1.62],[1.83,0.89],[0,0]],
[[-4.48,-0.86],[-4.55,-0.3],[-3.65,0.95],[-1.45,1.68],[0.96,1.87],[2.1,1.6]],
[[2.91,-0.59],[3.02,-1],[2.04,-2.07],[0.3,-2.47],[-1.2,-2.2],[-1.87,-1.4],[-1,-0.39],[0,0]],
[[-0.78,-2.34],[-2.52,-2.27],[-2.63,-1.8],[-1.43,-0.99],[0,0]],
[[-2,-2.37],[-0.78,-2],[1.17,-1.13],[2.04,-0.32],[2.48,0.48],[3.57,1.56]],
[[3.72,1.56],[2.7,1.29],[1.61,0.48],[0.5,0]],
[[4.04,1.01],[2.48,0.55],[0.74,0.15],[0,0]],
[[2.76,1.12],[2.91,0.48],[3.02,-0.59]],
[[-0.24,2.16],[-0.46,1.83],[-0.35,0.82],[0,0],[0.09,0.82],[-0.02,1.96],[-0.24,2.16]],
[[0.74,1.89],[0.52,1.15],[0.2,0.28]],
[[0.74,1.59],[-0.57,1.42],[-2.74,0.48],[-2.85,-0.05],[-2.09,-0.59],[-0.57,-0.72]],
[[0.74,1.55],[1.39,1.29],[1.39,0.48],[0.52,-0.86],[-0.24,-1.6],[-0.78,-2.34]],
[[-6.72,-0.63],[-4.48,-0.26],[-2.09,0.15],[0,0]],
[[-6.87,-1.01],[-4.7,-0.66],[-2.09,-0.12],[-0.57,0.01]],
[[-5.28,-0.79],[-3.17,-0.79],[-0.78,-0.66],[1.61,-0.53],[2.9,-0.51]],
[[-3.83,-1.03],[-2.96,-0.72],[-1.43,-0.19],[0,0]],
[[-3.72,0.15],[-1.43,0.21],[0.74,0.01]],
[[-2.96,0.28],[-1.43,0.21],[0.09,0.01]],
[[-2.8,0.42],[-0.13,0.08],[2.26,0.01]],
[[-1.43,0.48],[0.52,0.55],[2.7,0.42]],
[[2.91,-0.52],[0.74,-0.52],[-2.09,-0.39]],
[[-2.3,-1.18],[-0.57,-0.99],[1.39,-0.39],[2.91,0.01]],
[[0.3,-1.87],[-0.13,-1.53],[-0.46,-0.72],[0.3,0.21]],
[[-0.13,-1.6],[-0.57,-0.99],[0.09,0],[0.52,-0.99],[0.3,-1.53],[-0.13,-1.6]],
[[-1.65,-0.86],[-1.43,-0.46],[-0.57,-0.05],[0.74,0.48],[2.91,0.75]],
[[0.52,1.56],[0.96,1.15],[1.17,0.48],[0.09,-0.05]],
[[-0.57,-0.19],[-0.13,0.21],[0.52,-0.19],[-0.35,-0.39],[-0.78,-0.12]],
[[0,0.5],[0.5,1.4],[1.2,1.5],[1.4,0.7],[0.5,-0.5],[0.1,-1.1]],
[[0.3,1.1],[0.1,0.3],[-0.4,-0.4],[-0.1,-0.9],[0.3,-0.6],[0.3,0.3]],
[[0.15,0.6],[0,0.05],[-0.15,-0.3],[0.2,0.2],[0.1,0.8]],
[[-1,-0.6],[-0.3,0.05],[0.4,0.6],[1,1.4]],
[[-1.8,-0.45],[-0.5,-0.25],[0.8,-0.25],[2,-0.1]],
[[0.8,-0.2],[0.4,-1.1],[0.3,-1.87],[0.3,-1.2]],
[[-0.4,-1.2],[0,-0.4],[0.6,0.8],[0.9,1.5],[0.6,1.9]],
[[-1.2,-0.3],[-0.5,-0.2],[0.5,0.15],[1.5,0.1]],
[[-1.1,0.05],[-0.4,0.3],[0.2,-0.2],[-0.8,-0.45],[-1.1,0.05]],
[[0.2,0.2],[-0.1,0.9],[0.4,1.2],[0.7,0.5]],
[[-0.3,-0.3],[0.4,-0.45],[1.2,-0.6],[1.8,-0.45]],
[[0,0],[0.3,0.6],[0.5,1.3],[0.3,1.8]],
[[-0.6,-0.1],[-0.2,0.4],[0.1,0.9]]
];

const hull12=[[-2.44,0.87],[-1.52,0.87],[-0.27,0.69],[0.54,0.41],[1.43,0.13],[1.79,-0.05],[1.88,-0.22],[2.37,-0.34],[2.48,-0.45],[2.46,-0.67],[2.34,-0.87],[1.45,-0.87],[0.27,-0.68],[-0.71,-0.4],[-1.52,-0.1],[-1.83,0.06],[-1.96,0.23],[-2.37,0.34],[-2.56,0.46],[-2.52,0.65]];
const traj12=[
[[-2.02,0.67],[-2.05,0.46],[-2.01,0.27],[-1.25,0.14],[-0.27,0.09],[0.63,0.03]],
[[-1.63,0.66],[-1.74,0.41],[-1.61,0.25],[-1.07,0.14],[-0.27,0.08],[0.63,0.03]],
[[-1.65,0.65],[-1.76,0.35],[-1.43,0.21],[-0.54,0.1],[0.63,0.02]],
[[-1.03,0.65],[-1.43,0.35],[-1.16,0.19],[-0.36,0.09]],
[[-0.83,0.63],[-1.25,0.41],[-1.38,0.27],[-1.07,0.17],[-0.27,0.08]],
[[-0.46,0.48],[-0.71,0.35],[-1.16,0.21]],
[[-0.31,0.31],[-0.36,0.22],[-0.58,0.14]],
[[-0.67,0.25],[-0.98,0.21]],
[[-0.18,0.18],[-0.04,0.14],[-0.09,0.07]],
[[-1.25,0.1],[-0.36,0.05],[0.45,0.12]],
[[-0.75,-0.02],[0,0.03],[0.65,0.03],[0.6,0],[0,-0.01],[-0.7,-0.04],[-0.7,-0.02],[0.1,0.02],[0.65,0.01],[0.6,0.03],[-0.2,0.02],[-0.72,-0.03],[0,0],[0.62,0.02]],
[[-0.72,-0.04],[-0.1,-0.07],[0.5,-0.12],[1,-0.18]],
[[-0.7,-0.03],[0,-0.06],[0.45,-0.1],[0.95,-0.16]],
[[-0.75,-0.05],[-0.1,-0.09],[0.55,-0.14],[1.1,-0.2]],
[[-0.65,-0.02],[0,-0.04],[0.2,-0.06],[-0.6,-0.06],[0.4,-0.1],[-0.5,-0.06],[0.3,-0.09]],
[[-1.34,-0.09],[-0.6,-0.07],[0.4,-0.03],[1.6,-0.07]],
[[0.11,-0.49],[0.36,-0.32],[0.89,-0.16],[0,-0.02]],
[[0.29,-0.51],[0.63,-0.32],[0.98,-0.18]],
[[0.4,-0.47],[0.8,-0.29],[1.07,-0.18],[0.45,-0.1]],
[[0,-0.29],[0.45,-0.18],[0.63,-0.13]],
[[0.69,-0.64],[1.16,-0.37],[1.16,-0.24],[0.71,-0.13]],
[[1.12,-0.64],[1.43,-0.4],[1.25,-0.24],[0.45,-0.1]],
[[1.16,-0.69],[1.2,-0.56],[1.56,-0.34],[1.43,-0.24],[0.54,-0.1]],
[[1.52,-0.69],[1.52,-0.4],[1.61,-0.26],[0.89,-0.16]],
[[1.74,-0.85],[1.83,-0.45],[1.79,-0.29],[0.89,-0.16],[0.27,-0.08]],
[[1.79,-0.83],[1.83,-0.59],[1.88,-0.34],[1.7,-0.25],[0.89,-0.14]],
[[2.1,-0.85],[2.19,-0.45],[1.92,-0.29],[1.07,-0.16]],
[[2.03,-0.83],[2.19,-0.56],[2.1,-0.37],[1.7,-0.25]],
[[2.28,-0.83],[2.41,-0.56],[2.32,-0.4],[1.88,-0.26],[1.07,-0.14]]
];

const hulls=[hull1,hull2,hull3,hull4,hull5,hull6,hull7,hull8,hull9,hull10,hull11,hull12];
const trajs=[traj1,traj2,traj3,traj4,traj5,traj6,traj7,traj8,traj9,traj10,traj11,traj12];

// layout: [left, right, top, bottom, yNameGap]
const boxes=[[61,308,28,277,30],[451,655,24,277,77],[755,1002,28,277,34],[1101,1348,28,277,33],
[61,308,381,630,30],[408,655,381,630,34],[754,1001,381,630,33],[1101,1348,381,630,33],
[61,308,733,982,30],[408,655,733,982,34],[755,1002,733,982,34],[1119,1348,733,982,51]];

const INK='#262626',AX='#757575',FS=18.6,FF='"DejaVu Sans"';
const subRich={a:{fontSize:FS+1,fontFamily:FF,color:INK},s:{fontSize:14.5,fontFamily:FF,color:INK,padding:[14,0,0,0]}};
const supRich={m:{fontSize:FS,fontFamily:FF,color:'#666'},a:{fontSize:FS,fontFamily:FF,color:INK},s:{fontSize:15,fontFamily:FF,color:INK,padding:[0,0,16,0]}};
const fmt=v=>String(v);
const grid=[],xAxis=[],yAxis=[],series=[],graphic=[];
boxes.forEach((b,i)=>{
  grid.push({left:b[0],top:b[2],width:b[1]-b[0],height:b[3]-b[2],outerBoundsMode:'none',containLabel:false});
  const common={type:'value',axisLine:{show:true,onZero:false,lineStyle:{color:AX,width:1}},splitLine:{show:false}};
  xAxis.push({...common,gridIndex:i,min:-xLim[i],max:xLim[i],position:'bottom',
    axisTick:{show:true,inside:true,length:3,lineStyle:{color:AX},customValues:xTicks[i]},
    axisLabel:{color:INK,fontSize:FS,fontFamily:FF,margin:10,formatter:fmt,customValues:xTicks[i]},
    name:'{a|x}{s|'+xNames[i]+'}',nameLocation:'middle',nameGap:31,nameTextStyle:{rich:subRich}});
  yAxis.push({...common,gridIndex:i,min:-yLim[i],max:yLim[i],position:'left',
    axisTick:{show:true,inside:true,length:3,lineStyle:{color:AX},customValues:yTicks[i]},
    axisLabel:{color:INK,fontSize:FS,fontFamily:FF,margin:8,formatter:fmt,customValues:yTicks[i]},
    name:'{a|x}{s|'+yNames[i]+'}',nameLocation:'middle',nameGap:b[4],nameRotate:90,nameTextStyle:{rich:subRich}});
  const hull=hulls[i];
  series.push({type:'custom',xAxisIndex:i,yAxisIndex:i,silent:true,z:1,clip:false,data:hull,
    encode:{x:0,y:1},
    renderItem:(p,api)=>p.dataIndex!==0?null:({type:'polygon',shape:{points:hull.map(q=>api.coord(q))},style:{fill:'#cccccc',stroke:null}})});
  trajs[i].forEach(t=>series.push({type:'line',xAxisIndex:i,yAxisIndex:i,data:t,smooth:0.55,showSymbol:false,symbol:'none',silent:true,z:2,clip:false,
    lineStyle:{color:'#000',width:0.7,opacity:0.85}}));
  if(yExp[i]) graphic.push({type:'text',silent:true,x:b[0]+2,y:b[2]-9,style:{text:'{m|×}{a|10}{s|'+yExp[i]+'}',rich:supRich,align:'left',verticalAlign:'middle'}});
  if(xExp[i]) graphic.push({type:'text',silent:true,x:b[1]-1,y:b[3]+50,style:{text:'{m|×}{a|10}{s|'+xExp[i]+'}',rich:supRich,align:'right',verticalAlign:'middle'}});
});
const chart=echarts.init(document.getElementById('c'),null,{renderer:'canvas'});
chart.setOption({animation:false,backgroundColor:'#fff',tooltip:{show:false},grid,xAxis,yAxis,series,graphic});
</script></body></html>
